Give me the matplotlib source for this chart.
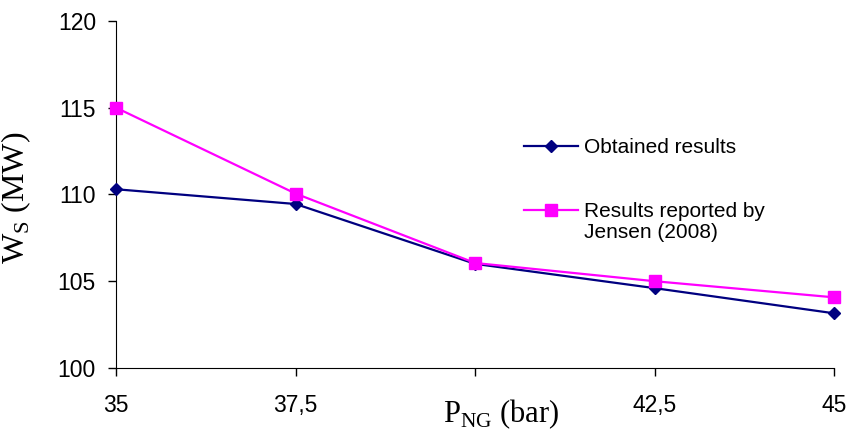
import matplotlib
matplotlib.use("Agg")
import matplotlib.pyplot as plt

# valores
p_ng = [35, 37.5, 40, 42.5, 45]
obtained = [110.3, 109.45, 106.0, 104.6, 103.15]
jensen = [115.0, 110.05, 106.05, 105.0, 104.07]
x_ticklabels = ["35", "37,5", "", "42,5", "45"]
y_ticks = [100, 105, 110, 115, 120]

plt.rcParams["font.family"] = ["Liberation Sans", "DejaVu Sans"]
plt.rcParams["mathtext.fontset"] = "custom"
plt.rcParams["mathtext.rm"] = "Liberation Serif"

fig = plt.figure(figsize=(8.47, 4.36), dpi=100)
ax = fig.add_axes([0.137, 0.156, 0.848, 0.796])

ax.plot(p_ng, obtained, color="#000080", marker="D", markersize=6.4,
        linewidth=1.6, clip_on=False, zorder=3)
ax.plot(p_ng, jensen, color="#ff00ff", marker="s", markersize=8,
        linewidth=1.6, clip_on=False, zorder=3)

ax.set_xlim(35, 45)
ax.set_ylim(100, 120)
ax.set_xticks(p_ng)
ax.set_xticklabels(x_ticklabels)
ax.set_yticks(y_ticks)
ax.tick_params(labelsize=16.5, length=5.5, width=1, direction="out")
ax.tick_params(axis="x", pad=13.5)
ax.tick_params(axis="y", pad=9)
ax.spines["top"].set_visible(False)
ax.spines["right"].set_visible(False)

ax.set_xlabel(r"P$_{\mathrm{NG}}$ (bar)", family="Liberation Serif", fontsize=22)
ax.xaxis.set_label_coords(0.536, -0.085)
ax.set_ylabel(r"W$_{\mathrm{S}}$ (MW)", family="Liberation Serif", fontsize=23)
ax.yaxis.set_label_coords(-0.116, 0.49)

# legenda: handle alinhado à primeira linha do segundo rótulo
h1, = ax.plot([], [], color="#000080", marker="D", markersize=6.4, linewidth=1.6)
h2, = ax.plot([], [], color="#ff00ff", marker="s", markersize=8, linewidth=1.6)
leg = ax.legend([h1, h2], ["Obtained results", "Results reported by"],
                loc="upper left", bbox_to_anchor=(0.619, 0.683), bbox_transform=fig.transFigure,
                frameon=False, fontsize=15, labelspacing=2.15, handlelength=2.6,
                handletextpad=0.25, borderpad=0, borderaxespad=0)

fig.canvas.draw()
t = leg.get_texts()[1]
bb = t.get_window_extent()
x0, y0 = fig.transFigure.inverted().transform((bb.x0, bb.y0 + 2))
fig.text(x0, y0 - 4 / 436, "Jensen (2008)", fontsize=15, ha="left", va="top")

fig.savefig("out.png", dpi=100)
plt.close(fig)
